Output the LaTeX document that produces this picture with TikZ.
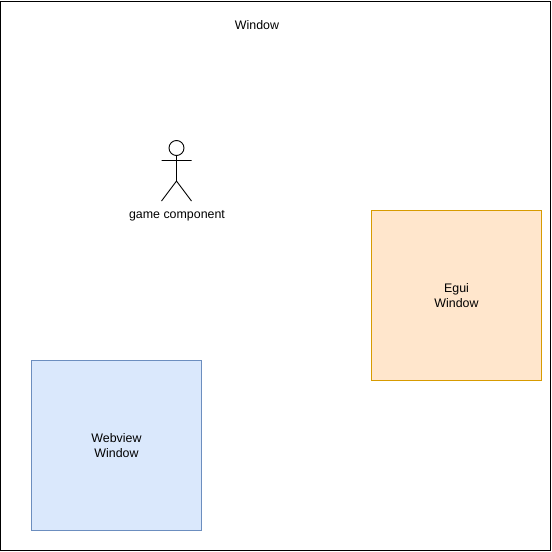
\documentclass[tikz,border=0pt]{standalone}
\usepackage{fontspec}
\setmainfont{Liberation Sans}
\definecolor{bluefill}{HTML}{DAE8FC}
\definecolor{blueline}{HTML}{6C8EBF}
\definecolor{orangefill}{HTML}{FFE6CC}
\definecolor{orangeline}{HTML}{D79B00}
\tikzset{x=1pt,y=-1pt,
  lbl/.style={font=\fontsize{12.4}{15}\selectfont,align=center,inner sep=0pt,text=black},
  box/.style={lbl,minimum width=170pt,minimum height=170pt,line width=0.75pt,draw},
  actor/.style={line width=0.9pt,draw=black}}
\begin{document}
\begin{tikzpicture}
\useasboundingbox (0,0) rectangle (552,552);
\node[draw=black,line width=0.75pt,fill=white,minimum width=549.5pt,minimum height=549.5pt,inner sep=0pt,anchor=north west] (window) at (0.5,0.5) {};
\node[lbl] (title) at (257,25) {Window};
\node[box,draw=orangeline,fill=orangefill] (egui) at (456.5,295.5) {Egui\\Window};
\node[box,draw=blueline,fill=bluefill] (webview) at (116.5,445.5) {Webview\\Window};
\draw[actor] (176.5,148) circle (7.5pt);
\draw[actor] (176.5,155.5) -- (176.5,181) (161.5,160.5) -- (191.5,160.5) (161.5,201) -- (176.5,181) -- (191.5,201);
\node[lbl] (game) at (177,215) {\strut game component};
\end{tikzpicture}
\end{document}
